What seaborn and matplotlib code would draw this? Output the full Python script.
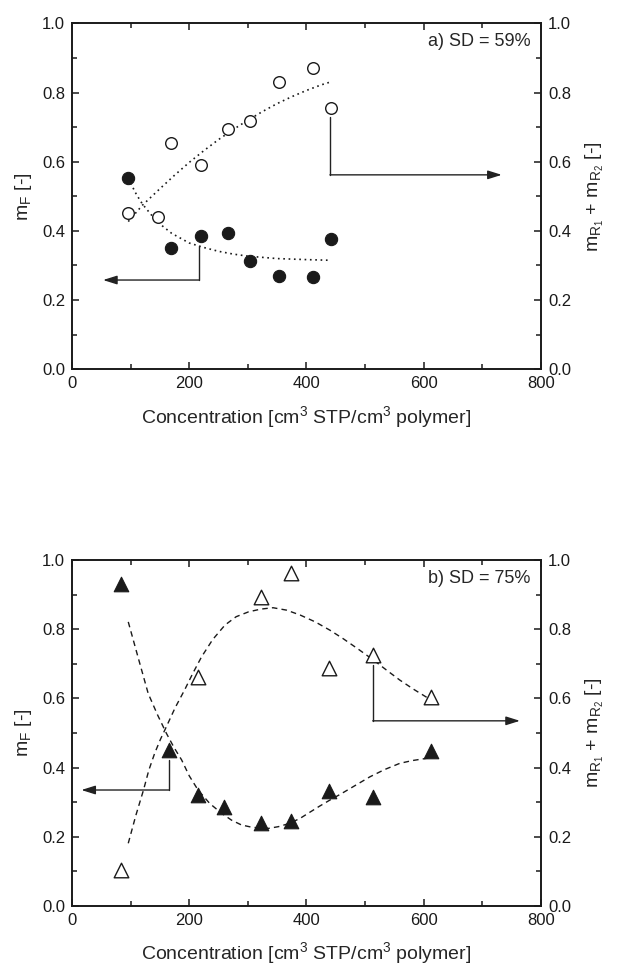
import matplotlib
matplotlib.use("Agg")
import matplotlib.pyplot as plt
import seaborn as sns
import numpy as np

# ---------------- data ----------------
# panel a (SD = 59%)
a_x = [96, 147, 169, 219.5, 266, 303.5, 353, 411, 442]
a_mR = [0.451, 0.439, 0.653, 0.590, 0.694, 0.718, 0.830, 0.872, 0.754]
a_xF = [96, 169, 219.5, 266, 303.5, 353, 411, 442]
a_mF = [0.553, 0.350, 0.386, 0.393, 0.313, 0.270, 0.268, 0.376]
a_fitR_x = [96, 120, 150, 175, 200, 225, 250, 275, 300, 325, 350, 375, 400, 425, 442]
a_fitR_y = [0.427, 0.474, 0.522, 0.561, 0.598, 0.632, 0.664, 0.693, 0.720, 0.745,
            0.768, 0.788, 0.806, 0.822, 0.831]
a_fitF_x = [100, 110, 120, 135, 150, 170, 200, 225, 250, 275, 300, 350, 400, 442]
a_fitF_y = [0.538, 0.505, 0.478, 0.447, 0.420, 0.393, 0.365, 0.352, 0.341, 0.333,
            0.327, 0.320, 0.317, 0.315]

# panel b (SD = 75%)
b_xF = [83, 165, 215.5, 259, 322, 373, 439, 513, 612]
b_mF = [0.932, 0.451, 0.320, 0.285, 0.240, 0.246, 0.332, 0.314, 0.449]
b_xR = [83, 215.5, 322, 373, 439, 513, 612]
b_mR = [0.104, 0.662, 0.892, 0.963, 0.688, 0.725, 0.605]
b_fitF_x = [96, 113, 130, 146, 161, 174, 187, 200, 215, 235, 255, 272, 289, 305, 320,
            335, 352, 372, 390, 405, 422, 440, 458, 475, 492, 508, 533, 559, 580, 599, 610]
b_fitF_y = [0.821, 0.717, 0.614, 0.552, 0.499, 0.458, 0.422, 0.376, 0.335, 0.296,
            0.268, 0.248, 0.234, 0.228, 0.225, 0.224, 0.229, 0.239, 0.254, 0.270,
            0.288, 0.306, 0.323, 0.340, 0.357, 0.373, 0.394, 0.412, 0.420, 0.425, 0.428]
b_fitR_x = [96, 109, 122, 131, 141, 151, 161, 176, 192, 206, 221, 240, 261, 280, 301,
            322, 343, 366, 389, 415, 440, 463, 486, 500, 514, 537, 559, 582, 605]
b_fitR_y = [0.181, 0.262, 0.335, 0.392, 0.441, 0.482, 0.518, 0.573, 0.624, 0.672,
            0.720, 0.770, 0.812, 0.836, 0.850, 0.858, 0.862, 0.855, 0.841, 0.821,
            0.797, 0.772, 0.745, 0.728, 0.711, 0.681, 0.653, 0.627, 0.603]

x_ticks = [0, 200, 400, 600, 800]
y_ticks = [0.0, 0.2, 0.4, 0.6, 0.8, 1.0]
panel_labels = ["a) SD = 59%", "b) SD = 75%"]

# arrows: (x_start, y_start, x_corner, y_level, x_end)
a_arrows = [(217, 0.355, 217, 0.258, 53), (440, 0.730, 440, 0.562, 733)]
b_arrows = [(166, 0.421, 166, 0.335, 16), (513, 0.696, 513, 0.535, 764)]

# ---------------- style ----------------
sns.set_theme(style="ticks")
plt.rcParams["font.family"] = ["Liberation Sans", "DejaVu Sans"]
plt.rcParams["mathtext.fontset"] = "custom"
plt.rcParams["mathtext.rm"] = "Liberation Sans"
plt.rcParams["mathtext.it"] = "Liberation Sans"

fig = plt.figure(figsize=(6.2, 9.67), dpi=100)
ax_a = fig.add_axes([0.1161, 0.6181, 0.7565, 0.3578])
ax_b = fig.add_axes([0.1161, 0.0632, 0.7565, 0.3577])

xlabel = r"Concentration [cm$^\mathregular{3}$ STP/cm$^\mathregular{3}$ polymer]"
ylabel_l = r"$\mathregular{m_F}$ [-]"
ylabel_r = r"$\mathregular{m_{R_1}}$ + $\mathregular{m_{R_2}}$ [-]"


def style_axes(ax, label):
    ax.set_xlim(0, 800)
    ax.set_ylim(0, 1.0)
    ax.set_xticks(x_ticks)
    ax.set_xticklabels([str(t) for t in x_ticks])
    ax.set_yticks(y_ticks)
    ax.set_yticklabels([f"{t:.1f}" for t in y_ticks])
    ax.set_xticks(np.arange(100, 800, 200), minor=True)
    ax.set_yticks(np.arange(0.1, 1.0, 0.2), minor=True)
    ax.tick_params(which="both", direction="in", top=True, right=False,
                   labelsize=12, color="k", labelcolor="k", width=1.1)
    ax.tick_params(which="major", length=5, pad=5)
    ax.tick_params(which="minor", length=3.5)
    for s in ax.spines.values():
        s.set_visible(True)
        s.set_linewidth(1.2)
        s.set_color("k")
    ax.set_xlabel(xlabel, fontsize=14, labelpad=9)
    ax.set_ylabel(ylabel_l, fontsize=14, labelpad=6)
    ax.set_facecolor("white")
    axr = ax.twinx()
    axr.set_ylim(0, 1.0)
    axr.set_yticks(y_ticks)
    axr.set_yticklabels([f"{t:.1f}" for t in y_ticks])
    axr.set_yticks(np.arange(0.1, 1.0, 0.2), minor=True)
    axr.tick_params(which="both", direction="in", labelsize=12, width=1.1,
                    color="k", labelcolor="k")
    axr.tick_params(which="major", length=5, pad=5)
    axr.tick_params(which="minor", length=3.5)
    axr.set_ylabel(ylabel_r, fontsize=14, labelpad=9)
    for s in axr.spines.values():
        s.set_linewidth(1.2)
        s.set_color("k")
    ax.text(0.977, 0.947, label, transform=ax.transAxes, ha="right", va="center",
            fontsize=13)
    return axr


def draw_arrows(ax, arrows):
    for xs, ys, xc, yl, xe in arrows:
        ax.plot([xs, xc], [ys, yl], color="#222222", lw=1.0)
        ax.annotate("", xy=(xe, yl), xytext=(xc, yl),
                    arrowprops=dict(arrowstyle="-|>,head_length=0.7,head_width=0.22",
                                    color="#222222", lw=1.0, shrinkA=0, shrinkB=0))


# ---------------- panel a ----------------
sns.lineplot(x=a_fitR_x, y=a_fitR_y, ax=ax_a, color="k", lw=1.2,
             linestyle=(0, (1, 2.2)), estimator=None, sort=False)
sns.lineplot(x=a_fitF_x, y=a_fitF_y, ax=ax_a, color="k", lw=1.2,
             linestyle=(0, (1, 2.2)), estimator=None, sort=False)
sns.scatterplot(x=a_x, y=a_mR, ax=ax_a, marker="o", s=70, facecolor="white",
                edgecolor="k", linewidth=1.0, zorder=3)
sns.scatterplot(x=a_xF, y=a_mF, ax=ax_a, marker="o", s=78, color="k",
                edgecolor="k", linewidth=0.8, zorder=3)
draw_arrows(ax_a, a_arrows)
style_axes(ax_a, panel_labels[0])

# ---------------- panel b ----------------
sns.lineplot(x=b_fitF_x, y=b_fitF_y, ax=ax_b, color="k", lw=1.0,
             linestyle=(0, (4, 3)), estimator=None, sort=False)
sns.lineplot(x=b_fitR_x, y=b_fitR_y, ax=ax_b, color="k", lw=1.0,
             linestyle=(0, (4, 3)), estimator=None, sort=False)
sns.scatterplot(x=b_xR, y=b_mR, ax=ax_b, marker="^", s=110, facecolor="white",
                edgecolor="k", linewidth=1.0, zorder=3)
sns.scatterplot(x=b_xF, y=b_mF, ax=ax_b, marker="^", s=110, color="k",
                edgecolor="k", linewidth=0.8, zorder=3)
draw_arrows(ax_b, b_arrows)
style_axes(ax_b, panel_labels[1])

fig.savefig("out.png", dpi=100, facecolor="white")
